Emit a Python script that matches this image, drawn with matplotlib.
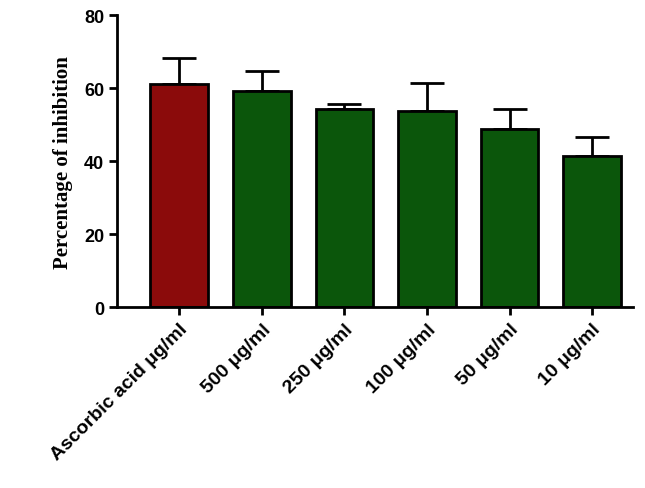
import matplotlib
matplotlib.use("Agg")
import matplotlib.pyplot as plt

categories = ["Ascorbic acid \u03bcg/ml", "500 \u03bcg/ml", "250 \u03bcg/ml", "100 \u03bcg/ml", "50 \u03bcg/ml", "10 \u03bcg/ml"]
values = [61.0, 59.2, 54.2, 53.7, 48.8, 41.3]
errors = [7.2, 5.5, 1.5, 7.6, 5.4, 5.3]
colors = ["#8b0b0b", "#0b560b", "#0b560b", "#0b560b", "#0b560b", "#0b560b"]

fig = plt.figure(figsize=(6.45, 4.89), dpi=100)
ax = fig.add_axes([0.182, 0.37, 0.80, 0.597])
x = range(len(categories))
ax.bar(x, values, width=0.7, color=colors, edgecolor="black", linewidth=2, zorder=2)
ax.errorbar(x, values, yerr=[[0]*len(errors), errors], fmt="none", ecolor="black",
            elinewidth=2, capsize=12, capthick=2, zorder=1)
ax.set_ylim(0, 80)
ax.set_xlim(-0.75, len(categories) - 0.5)
ax.set_yticks([0, 20, 40, 60, 80])
ax.set_xticks(list(x))
ax.set_xticklabels(categories, rotation=45, ha="right", rotation_mode="anchor",
                   fontsize=14, fontweight="bold", family="Liberation Sans")
for t in ax.get_yticklabels():
    t.set_fontsize(13); t.set_fontweight("bold"); t.set_family("Liberation Sans")
ax.set_ylabel("Percentage of inhibition", family="Liberation Serif", fontsize=15,
              fontweight="bold", labelpad=8)
for s in ["top", "right"]:
    ax.spines[s].set_visible(False)
for s in ["left", "bottom"]:
    ax.spines[s].set_linewidth(2)
ax.tick_params(width=2, length=6)
fig.savefig("out.png", dpi=100)
